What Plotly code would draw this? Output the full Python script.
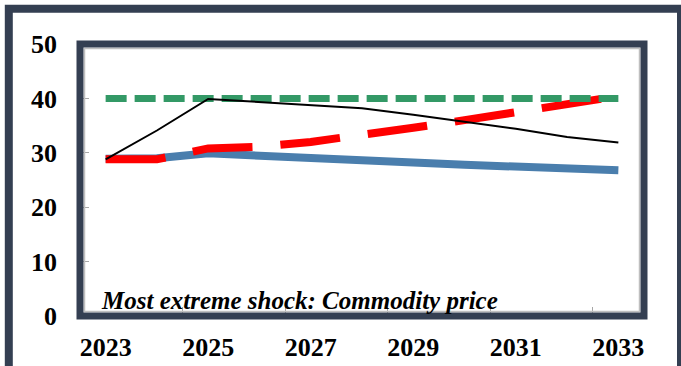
import plotly.graph_objects as go

# Years on the category axis
years = [2023, 2024, 2025, 2026, 2027, 2028, 2029, 2030, 2031, 2032, 2033]

# Scenario paths
baseline = [28.9, 29.0, 29.9, 29.4, 28.9, 28.6, 28.2, 27.8, 27.4, 27.0, 26.8]
shock_path = [28.8, 28.8, 30.8, 31.1, 32.0, 33.2, 34.6, 36.0, 37.4, 38.8, 40.4]
threshold = [40, 40, 40, 40, 40, 40, 40, 40, 40, 40, 40]
extreme_shock = [28.8, 34.1, 39.9, 39.3, 38.7, 38.2, 37.0, 35.7, 34.4, 32.9, 31.9]

# Axis labels
x_tick_vals = [2023, 2025, 2027, 2029, 2031, 2033]
x_tick_text = ["2023", "2025", "2027", "2029", "2031", "2033"]
x_minor_vals = [2024.5, 2026.5, 2028.5, 2030.5, 2032.5]
y_tick_vals = [0, 10, 20, 30, 40, 50]
y_tick_text = ["0", "10", "20", "30", "40", "50"]

NAVY = "#343F52"
TICK_GREY = "#A6A6A6"
FONT = "Liberation Serif"

fig = go.Figure()
fig.add_trace(go.Scatter(x=years, y=baseline, mode="lines",
                         line=dict(color="#4A7EAD", width=8)))
fig.add_trace(go.Scatter(x=years, y=shock_path, mode="lines",
                         line=dict(color="#FF0000", width=8, dash="60px,28px")))
fig.add_trace(go.Scatter(x=years, y=threshold, mode="lines",
                         line=dict(color="#339966", width=7, dash="21px,8px")))
fig.add_trace(go.Scatter(x=years, y=extreme_shock, mode="lines",
                         line=dict(color="#000000", width=2)))

L, R, T, B = 80, 37, 44, 50
W, H = 681, 366
pw, ph = W - L - R, H - T - B

def px_to_paper_x(px):
    return (px - L) / pw

def px_to_paper_y(py):
    return (H - B - py) / ph

shapes = [
    # outer frame
    dict(type="rect", xref="paper", yref="paper",
         x0=px_to_paper_x(8.8), x1=px_to_paper_x(681),
         y0=px_to_paper_y(400), y1=px_to_paper_y(8.8),
         line=dict(color=NAVY, width=8), layer="above"),
    # thin grey axis line just inside the plot frame
    dict(type="rect", xref="paper", yref="paper",
         x0=4.5 / pw, x1=1 - 4.5 / pw, y0=4.5 / ph, y1=1 - 4.5 / ph,
         line=dict(color="#BFBFBF", width=1.5), layer="above"),
    # plot frame
    dict(type="rect", xref="paper", yref="paper",
         x0=0, x1=1, y0=0, y1=1,
         line=dict(color=NAVY, width=7), layer="above"),
]

def bold(s):
    return "<b>" + s + "</b>"

fig.update_layout(
    width=W, height=H,
    margin=dict(l=L, r=R, t=T, b=B),
    paper_bgcolor="white", plot_bgcolor="white",
    showlegend=False,
    shapes=shapes,
    annotations=[dict(
        text="<b><i>Most extreme shock: Commodity price</i></b>",
        xref="paper", yref="paper",
        x=px_to_paper_x(99), y=px_to_paper_y(300),
        xanchor="left", yanchor="middle", showarrow=False,
        font=dict(family=FONT, size=25, color="black"),
    )],
)

fig.update_xaxes(
    range=[2022.5, 2033.5], automargin=False,
    tickmode="array", tickvals=x_tick_vals, ticktext=[bold(t) for t in x_tick_text],
    ticks="", showgrid=False, zeroline=False, showline=False,
    tickfont=dict(family=FONT, size=26, color="black"),
    ticklabelstandoff=13,
    minor=dict(tickmode="array", tickvals=x_minor_vals, ticks="inside",
               ticklen=9, tickcolor=TICK_GREY, tickwidth=1, showgrid=False),
)
fig.update_yaxes(
    range=[0, 50], automargin=False,
    tickmode="array", tickvals=y_tick_vals, ticktext=[bold(t) for t in y_tick_text],
    ticks="inside", ticklen=9, tickcolor=TICK_GREY, tickwidth=1,
    showgrid=False, zeroline=False, showline=False,
    tickfont=dict(family=FONT, size=26, color="black"),
    ticklabelstandoff=22,
)

fig.write_html("out.html")
